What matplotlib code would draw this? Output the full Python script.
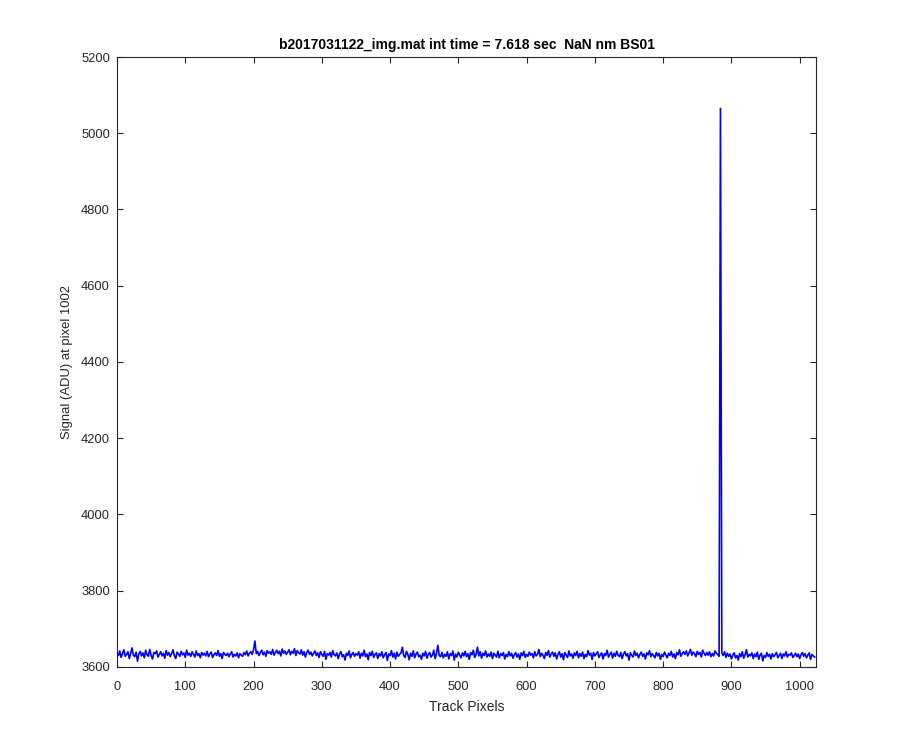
import numpy as np
import matplotlib
matplotlib.use("Agg")
import matplotlib.pyplot as plt

plt.rcParams['font.family'] = ['Liberation Sans', 'DejaVu Sans']

# Signal sampled every 2 track pixels (0..1022)
signal = [
    3638, 3630, 3642, 3625, 3635, 3645, 3628, 3633, 3640, 3622, 3636, 3650, 3631, 3627, 3639, 3615,
    3634, 3641, 3629, 3637, 3624, 3644, 3632, 3628, 3646, 3630, 3621, 3638, 3635, 3642, 3626, 3633,
    3640, 3629, 3636, 3623, 3643, 3631, 3638, 3627, 3635, 3645, 3630, 3622, 3639, 3634, 3628, 3641,
    3632, 3637, 3625, 3644, 3631, 3636, 3628, 3640, 3633, 3626, 3642, 3630, 3635, 3624, 3638, 3631,
    3636, 3629, 3641, 3627, 3634, 3639, 3625, 3632, 3637, 3630, 3643, 3628, 3635, 3622, 3638, 3633,
    3630, 3636, 3627, 3634, 3640, 3626, 3633, 3629, 3637, 3624, 3635, 3631, 3628, 3638, 3632, 3642,
    3629, 3636, 3640, 3633, 3645, 3668, 3635, 3641, 3630, 3638, 3644, 3632, 3639, 3628, 3643, 3636,
    3640, 3633, 3646, 3631, 3638, 3644, 3635, 3641, 3629, 3647, 3636, 3642, 3633, 3639, 3645, 3632,
    3641, 3636, 3648, 3630, 3643, 3637, 3634, 3645, 3631, 3640, 3626, 3638, 3644, 3633, 3639, 3629,
    3636, 3642, 3630, 3637, 3625, 3640, 3633, 3628, 3641, 3620, 3635, 3631, 3638, 3626, 3643, 3632,
    3629, 3637, 3622, 3634, 3640, 3627, 3632, 3618, 3636, 3630, 3642, 3624, 3633, 3638, 3628, 3635,
    3631, 3640, 3623, 3636, 3629, 3644, 3627, 3634, 3619, 3638, 3630, 3641, 3625, 3633, 3637, 3622,
    3635, 3629, 3640, 3624, 3632, 3638, 3617, 3634, 3630, 3643, 3626, 3636, 3621, 3639, 3628, 3633,
    3637, 3652, 3630, 3625, 3641, 3633, 3619, 3636, 3628, 3642, 3624, 3634, 3639, 3627, 3631, 3620,
    3636, 3629, 3641, 3623, 3633, 3638, 3626, 3631, 3644, 3622, 3635, 3657, 3630, 3627, 3638, 3624,
    3633, 3628, 3640, 3621, 3635, 3630, 3642, 3618, 3634, 3626, 3639, 3631, 3624, 3637, 3629, 3641,
    3627, 3635, 3620, 3638, 3632, 3644, 3625, 3633, 3652, 3629, 3640, 3623, 3636, 3630, 3642, 3626,
    3634, 3628, 3639, 3622, 3636, 3631, 3626, 3641, 3624, 3635, 3630, 3638, 3621, 3633, 3627, 3640,
    3629, 3636, 3623, 3632, 3638, 3626, 3634, 3620, 3637, 3630, 3641, 3625, 3633, 3628, 3639, 3631,
    3635, 3624, 3640, 3629, 3633, 3646, 3627, 3636, 3631, 3622, 3638, 3630, 3643, 3626, 3634, 3639,
    3628, 3637, 3621, 3633, 3640, 3626, 3635, 3619, 3638, 3631, 3625, 3642, 3629, 3634, 3623, 3637,
    3630, 3641, 3624, 3635, 3628, 3639, 3622, 3633, 3627, 3643, 3631, 3636, 3620, 3638, 3629, 3634,
    3640, 3625, 3632, 3637, 3621, 3635, 3630, 3644, 3626, 3633, 3639, 3623, 3636, 3628, 3641, 3631,
    3627, 3638, 3622, 3634, 3640, 3629, 3635, 3618, 3637, 3631, 3626, 3642, 3630, 3636, 3624, 3633,
    3639, 3628, 3634, 3621, 3637, 3632, 3643, 3627, 3635, 3630, 3624, 3638, 3629, 3636, 3620, 3633,
    3627, 3639, 3631, 3624, 3636, 3630, 3641, 3626, 3634, 3622, 3638, 3632, 3645, 3628, 3635, 3640,
    3633, 3642, 3629, 3637, 3646, 3631, 3639, 3635, 3627, 3641, 3633, 3638, 3626, 3644, 3636, 3630,
    3638, 3631, 3640, 3627, 3635, 3629, 3642, 3636, 3633, 3628, 5065, 3637, 3630, 3640, 3625, 3636,
    3628, 3634, 3621, 3631, 3637, 3624, 3630, 3618, 3635, 3627, 3640, 3623, 3632, 3645, 3626, 3633,
    3629, 3637, 3622, 3634, 3627, 3639, 3620, 3631, 3636, 3616, 3630, 3625, 3638, 3628, 3633, 3621,
    3635, 3627, 3632, 3638, 3624, 3630, 3636, 3622, 3634, 3629, 3640, 3626, 3633, 3631, 3637, 3625,
    3630, 3636, 3627, 3634, 3622, 3632, 3638, 3628, 3635, 3624, 3631, 3637, 3620, 3633, 3629, 3626,
]
pixels = np.arange(0, 2 * len(signal), 2)

xticks = [0, 100, 200, 300, 400, 500, 600, 700, 800, 900, 1000]
yticks = [3600, 3800, 4000, 4200, 4400, 4600, 4800, 5000, 5200]

fig = plt.figure(figsize=(9, 7.5), dpi=100)
ax = fig.add_axes([0.13, 0.1107, 0.7767, 0.8133])
ax.plot(pixels, signal, color=(0, 0, 1), linewidth=1.2)
ax.set_xlim(0, 1024)
ax.set_ylim(3600, 5200)
ax.set_xticks(xticks)
ax.set_yticks(yticks)
ax.tick_params(direction='in', top=True, right=True, labelsize=9.3,
               length=4, width=0.8, colors='#262626')
ax.tick_params(axis='x', pad=10)
ax.tick_params(axis='y', pad=5)
for s in ax.spines.values():
    s.set_linewidth(0.8)
    s.set_color('#262626')
ax.set_xlabel('Track Pixels', fontsize=10, color='#262626', labelpad=5)
ax.set_ylabel('Signal (ADU) at pixel 1002', fontsize=9.4, color='#262626', labelpad=6)
ax.set_title('b2017031122_img.mat int time = 7.618 sec  NaN nm BS01',
             fontsize=10, fontweight='bold', color='black', pad=6)
fig.savefig('out.png', dpi=100, facecolor='white')
